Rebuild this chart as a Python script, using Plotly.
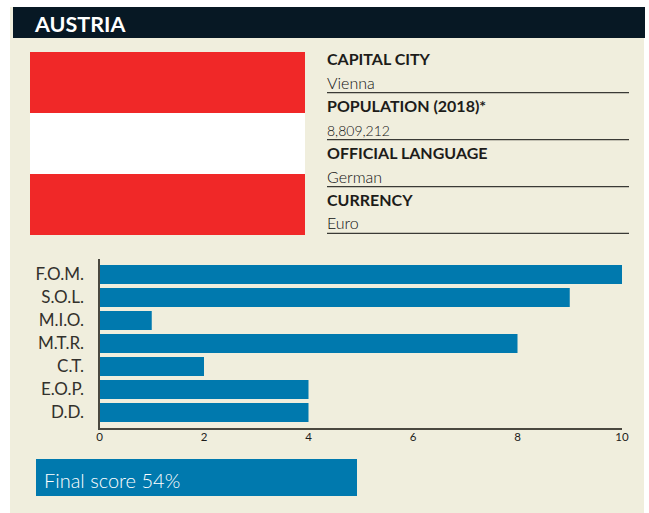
import plotly.graph_objects as go

W, H = 649, 513
categories = ["F.O.M.", "S.O.L.", "M.I.O.", "M.T.R.", "C.T.", "E.O.P.", "D.D."]
scores = [10, 9, 1, 8, 2, 4, 4]
x_ticks = [0, 2, 4, 6, 8, 10]
title = "AUSTRIA"
facts = [("CAPITAL CITY", "Vienna"), ("POPULATION (2018)*", "8,809,212"),
         ("OFFICIAL LANGUAGE", "German"), ("CURRENCY", "Euro")]
final_label = "Final score 54%"

BEIGE, NAVY, BLUE, RED, INK = "#f0eedd", "#071824", "#0079ae", "#f02828", "#1d1c1a"
LIGHT = "Lato Light, Lato, sans-serif"
HEAD = "Lato, sans-serif"
VALUE_SIZES = [16, 14, 16, 16]


def px(x):
    return x / W


def py(y):
    return 1 - y / H


def rect(x0, y0, x1, y1, color):
    return dict(type="rect", xref="paper", yref="paper", x0=px(x0), x1=px(x1),
                y0=py(y0), y1=py(y1), fillcolor=color, line_width=0, layer="below")


def label(x, y, text, size, color=INK, family=LIGHT, xanchor="left"):
    return dict(xref="paper", yref="paper", x=px(x), y=py(y), text=text, showarrow=False,
                xanchor=xanchor, yanchor="middle", borderpad=0, borderwidth=0,
                font=dict(size=size, color=color, family=family))


shapes = [rect(10, 7, 644, 513, BEIGE), rect(13, 7, 645, 38, NAVY),
          rect(30, 52, 305, 113, RED), rect(30, 113, 305, 174, "#ffffff"),
          rect(30, 174, 305, 235, RED), rect(36, 459, 357, 496, BLUE)]
annotations = [label(34, 24, f"<b>{title}</b>", 21.5, "#ffffff", HEAD),
               label(43.5, 480, final_label, 20, "#ffffff")]
for (head, value), size, y_head, y_val, y_rule in zip(facts, VALUE_SIZES, [59, 105.3, 152, 199.3], [83, 130.5, 176, 223],
                                                      [92.7, 139.6, 186.6, 233.3]):
    annotations.append(label(326.5, y_head, f"<b>{head}</b>", 16, INK, HEAD))
    annotations.append(label(326.5, y_val, value, size, "#111111"))
    shapes.append(dict(type="line", xref="paper", yref="paper", x0=px(327), x1=px(629),
                       y0=py(y_rule), y1=py(y_rule), line=dict(color="#3a3a35", width=1.2)))

fig = go.Figure(go.Bar(x=scores, y=categories, orientation="h", marker=dict(color=BLUE, line_width=0),
                       width=0.826))
fig.update_layout(
    width=W, height=H, margin=dict(l=0, r=0, t=0, b=0), showlegend=False,
    paper_bgcolor="#ffffff", plot_bgcolor="rgba(0,0,0,0)", shapes=shapes, annotations=annotations,
    xaxis=dict(domain=[px(99.5), px(622)], range=[0, 10], tickvals=x_ticks, showgrid=False, zeroline=False,
               automargin=False, showline=True, linecolor="#4a483f", linewidth=2, ticks="", ticklen=0,
               ticklabelstandoff=-3, tickfont=dict(size=11.5, color=INK, family=HEAD), anchor="y"),
    yaxis=dict(domain=[py(428), py(259)], type="category", categoryorder="array", categoryarray=categories,
               automargin=False, autorange=False, range=[6.674, -0.674], showgrid=False, zeroline=False,
               showline=True, linecolor="#4a483f", linewidth=2, ticks="outside", ticklen=10, tickcolor="rgba(0,0,0,0)",
               tickfont=dict(size=17, color="#33312c", family=HEAD), anchor="x"),
)
fig.write_html("out.html", config=dict(displayModeBar=False), post_script="document.body.style.margin='0';")
